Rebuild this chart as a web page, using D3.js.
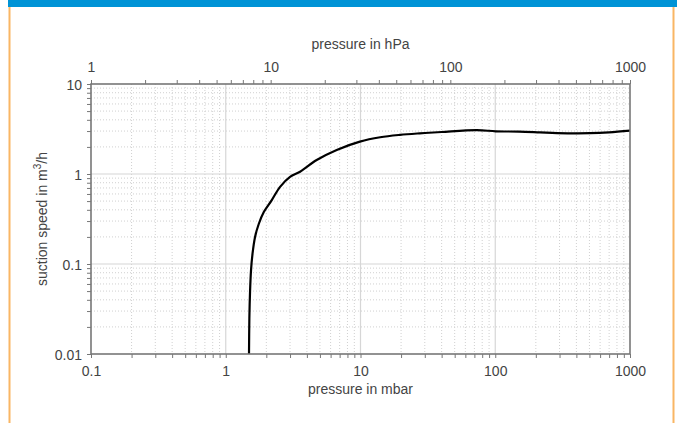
<!DOCTYPE html>
<html><head><meta charset="utf-8">
<script src="https://cdn.jsdelivr.net/npm/d3@7"></script>
<style>
html,body{margin:0;padding:0;background:#fff;}
svg text{font-family:"Liberation Sans",Arial,Helvetica,sans-serif;fill:#444;}
</style></head>
<body><svg id="c" width="678" height="423"></svg>
<script>
// data: pressure in mbar vs suction speed m3/h
const pressureMbar = [1.488, 1.497, 1.515, 1.54, 1.58, 1.65, 1.76, 1.92, 2.19, 2.53, 3.0, 3.56, 4.73, 6.66, 9.9, 14, 19.6, 27.5, 40, 73, 101, 150, 215, 287, 505, 700, 1000];
const suctionSpeed = [0.01, 0.025, 0.05, 0.085, 0.13, 0.2, 0.28, 0.38, 0.51, 0.72, 0.93, 1.06, 1.43, 1.85, 2.29, 2.56, 2.72, 2.83, 2.93, 3.07, 2.98, 2.96, 2.9, 2.85, 2.84, 2.9, 3.03];
const bottomTicks = [0.1, 1, 10, 100, 1000];
const topTicks = [1, 10, 100, 1000];
const leftTicks = [0.01, 0.1, 1, 10];

const svg = d3.select("#c");
const L = 91, R = 630, T = 84, B = 354;
const x = d3.scaleLog().domain([0.1, 1000]).range([L, R]);
const xTop = d3.scaleLog().domain([1, 1000]).range([L, R]);
const y = d3.scaleLog().domain([0.01, 10]).range([B, T]);

// frame decoration
svg.append("rect").attr("x", 8).attr("y", 0).attr("width", 669).attr("height", 7).attr("fill", "#0093d6");
svg.append("line").attr("x1", 9.5).attr("x2", 9.5).attr("y1", 7).attr("y2", 423).attr("stroke", "#f9b664").attr("stroke-width", 2);
svg.append("line").attr("x1", 673.5).attr("x2", 673.5).attr("y1", 7).attr("y2", 423).attr("stroke", "#f9b664").attr("stroke-width", 2);

function minors(lo, hi) {
  const out = [];
  for (let d = lo; d < hi; d *= 10) for (let k = 2; k <= 9; k++) out.push(d * k);
  return out;
}
const xMinor = minors(0.1, 1000), yMinor = minors(0.01, 10), xTopMinor = minors(1, 1000);

const g = svg.append("g");
// minor grid (dotted)
g.selectAll(".vm").data(xMinor).join("line")
  .attr("x1", d => x(d)).attr("x2", d => x(d)).attr("y1", T).attr("y2", B)
  .attr("stroke", "#d0d0d0").attr("stroke-width", 1).attr("stroke-dasharray", "1,2");
g.selectAll(".hm").data(yMinor).join("line")
  .attr("x1", L).attr("x2", R).attr("y1", d => y(d)).attr("y2", d => y(d))
  .attr("stroke", "#d0d0d0").attr("stroke-width", 1).attr("stroke-dasharray", "1,2");
// major grid
g.selectAll(".vM").data(bottomTicks.slice(1, -1)).join("line")
  .attr("x1", d => x(d)).attr("x2", d => x(d)).attr("y1", T).attr("y2", B)
  .attr("stroke", "#d6d6d6").attr("stroke-width", 1.2);
g.selectAll(".hM").data(leftTicks.slice(1, -1)).join("line")
  .attr("x1", L).attr("x2", R).attr("y1", d => y(d)).attr("y2", d => y(d))
  .attr("stroke", "#d6d6d6").attr("stroke-width", 1.2);

// curve
const line = d3.line().x((d, i) => x(pressureMbar[i])).y(d => y(d)).curve(d3.curveCatmullRom.alpha(0.5));
svg.append("path").attr("d", line(suctionSpeed)).attr("fill", "none").attr("stroke", "#000").attr("stroke-width", 2.2);

// axes
const axisColor = "#777";
function styleAxis(sel) {
  sel.select(".domain").remove();
  sel.selectAll(".tick line").attr("stroke", axisColor).attr("stroke-width", 1);
  sel.selectAll(".tick text").attr("font-size", "14px").attr("fill", "#444").style("font-family", '"Liberation Sans",Arial,sans-serif');
}
const fmt = d => String(d);
// bottom
const bAx = svg.append("g").attr("transform", `translate(0,${B})`)
  .call(d3.axisBottom(x).tickValues(bottomTicks.concat(xMinor)).tickSize(4).tickPadding(8)
    .tickFormat(d => bottomTicks.includes(d) ? fmt(d) : ""));
styleAxis(bAx);
// top
const tAx = svg.append("g").attr("transform", `translate(0,${T})`)
  .call(d3.axisTop(xTop).tickValues(topTicks.concat(xTopMinor)).tickSize(4).tickPadding(8)
    .tickFormat(d => topTicks.includes(d) ? fmt(d) : ""));
styleAxis(tAx);
// left
const lAx = svg.append("g").attr("transform", `translate(${L},0)`)
  .call(d3.axisLeft(y).tickValues(leftTicks.concat(yMinor)).tickSize(4).tickPadding(5)
    .tickFormat(d => leftTicks.includes(d) ? fmt(d) : ""));
styleAxis(lAx);
lAx.selectAll(".tick text").attr("dy", "0.36em");

// frame
svg.append("rect").attr("x", L).attr("y", T).attr("width", R - L).attr("height", B - T)
  .attr("fill", "none").attr("stroke", axisColor).attr("stroke-width", 1.6);

// titles
svg.append("text").attr("x", (L + R) / 2).attr("y", 49).attr("text-anchor", "middle").attr("font-size", "14px").text("pressure in hPa");
svg.append("text").attr("x", (L + R) / 2).attr("y", 394).attr("text-anchor", "middle").attr("font-size", "14px").text("pressure in mbar");
const yt = svg.append("text").attr("transform", `translate(47,${(T + B) / 2}) rotate(-90)`).attr("text-anchor", "middle").attr("font-size", "14px");
yt.append("tspan").text("suction speed in m");
yt.append("tspan").attr("font-size", "10px").attr("dy", "-6").text("3");
yt.append("tspan").attr("dy", "6").text("/h");
</script></body></html>
